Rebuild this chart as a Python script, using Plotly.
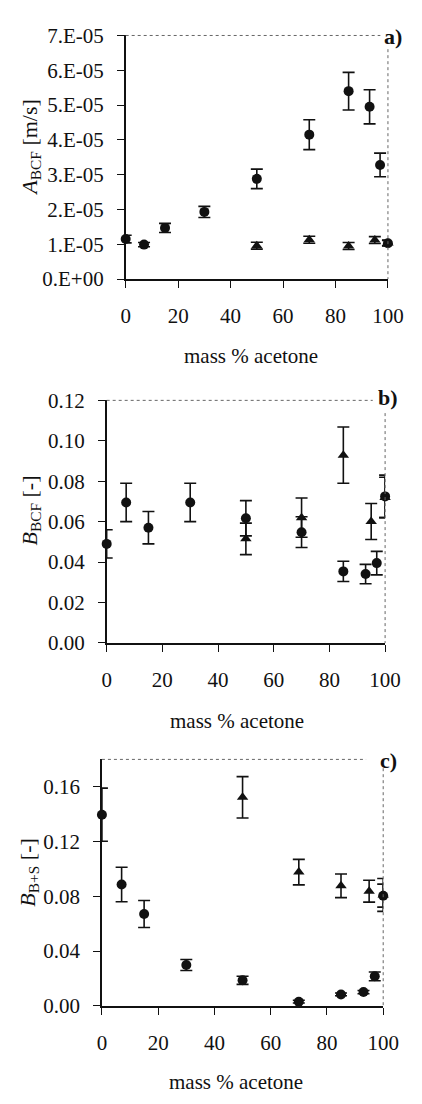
import plotly.graph_objects as go

# ---------------- data ----------------
mass_ticks = [0, 20, 40, 60, 80, 100]

# panel a) A_BCF [m/s]
xa_circ = [0, 7, 15, 30, 50, 70, 85, 93, 97, 100]
a_circ = [1.15e-5, 0.99e-5, 1.47e-5, 1.93e-5, 2.88e-5, 4.15e-5, 5.40e-5, 4.95e-5, 3.28e-5, 1.03e-5]
a_circ_err = [0.11e-5, 0.06e-5, 0.13e-5, 0.16e-5, 0.28e-5, 0.43e-5, 0.54e-5, 0.49e-5, 0.34e-5, 0.08e-5]
xa_tri = [50, 70, 85, 95, 100]
a_tri = [0.96e-5, 1.13e-5, 0.95e-5, 1.12e-5, 1.04e-5]
a_tri_err = [0.10e-5, 0.10e-5, 0.10e-5, 0.10e-5, 0.08e-5]
a_tickvals = [0, 1e-5, 2e-5, 3e-5, 4e-5, 5e-5, 6e-5, 7e-5]
a_ticktext = ["0.E+00", "1.E-05", "2.E-05", "3.E-05", "4.E-05", "5.E-05", "6.E-05", "7.E-05"]

# panel b) B_BCF [-]
xb_circ = [0, 7, 15, 30, 50, 70, 85, 93, 97, 100]
b_circ = [0.049, 0.0695, 0.057, 0.0695, 0.0617, 0.0548, 0.0354, 0.0341, 0.0395, 0.0725]
b_circ_err = [0.007, 0.0095, 0.008, 0.0095, 0.0087, 0.0076, 0.005, 0.0048, 0.0058, 0.0105]
xb_tri = [50, 70, 85, 95, 100]
b_tri = [0.0515, 0.062, 0.0929, 0.0601, 0.072]
b_tri_err = [0.0078, 0.0097, 0.0139, 0.0089, 0.0100]
b_tickvals = [0, 0.02, 0.04, 0.06, 0.08, 0.10, 0.12]

# panel c) B_B+S [-]
xc_circ = [0, 7, 15, 30, 50, 70, 85, 93, 97, 100]
c_circ = [0.1396, 0.0886, 0.0671, 0.0299, 0.0187, 0.0031, 0.0084, 0.0101, 0.0216, 0.0805]
c_circ_err = [0.0194, 0.0126, 0.0099, 0.004, 0.003, 0.001, 0.001, 0.0012, 0.0032, 0.0084]
xc_tri = [50, 70, 85, 95, 100]
c_tri = [0.1523, 0.0977, 0.0877, 0.0838, 0.081]
c_tri_err = [0.0151, 0.0093, 0.0086, 0.008, 0.012]
c_tickvals = [0, 0.04, 0.08, 0.12, 0.16]

# ---------------- layout geometry (pixels) ----------------
W, H = 422, 1104
FONT = "Liberation Serif, Times New Roman, Times, serif"
INK = "#111111"
# (left, right, top, bottom) of each plot area in pixels
boxes = [(127, 403, 24, 273), (107, 400, 397, 645), (102, 398, 764, 1016)]


def xdom(b):
    return [b[0] / W, b[1] / W]


def ydom(b):
    return [1 - b[3] / H, 1 - b[2] / H]


def py(v):
    return 1 - v / H


def px(v):
    return v / W


fig = go.Figure()


def add_series(i, x, y, err, symbol):
    suffix = "" if i == 1 else str(i)
    fig.add_trace(go.Scatter(
        x=x, y=y, mode="markers",
        marker=dict(symbol=symbol, size=10, color=INK, line=dict(width=0)),
        error_y=dict(type="data", array=err, visible=True, color=INK, thickness=1.6, width=6),
        xaxis="x" + suffix, yaxis="y" + suffix, cliponaxis=False, showlegend=False,
    ))


add_series(1, xa_circ, a_circ, a_circ_err, "circle")
add_series(1, xa_tri, a_tri, a_tri_err, "triangle-up")
add_series(2, xb_circ, b_circ, b_circ_err, "circle")
add_series(2, xb_tri, b_tri, b_tri_err, "triangle-up")
add_series(3, xc_circ, c_circ, c_circ_err, "circle")
add_series(3, xc_tri, c_tri, c_tri_err, "triangle-up")

common_axis = dict(showline=True, linecolor=INK, linewidth=1.5, ticks="outside", ticklen=7,
                   tickwidth=1.2, tickcolor=INK, showgrid=False, zeroline=False,
                   tickfont=dict(family=FONT, size=21, color=INK), fixedrange=True)

yranges = [[0, 7e-5], [0, 0.12], [0, 0.18]]
ytv = [a_tickvals, b_tickvals, c_tickvals]
layout = {}
for i, b in enumerate(boxes, start=1):
    suffix = "" if i == 1 else str(i)
    layout["xaxis" + suffix] = dict(common_axis, domain=xdom(b), range=[0, 100], tickvals=mass_ticks,
                                    anchor="y" + suffix, ticklabelstandoff=10)
    ya = dict(common_axis, domain=ydom(b), range=yranges[i - 1], tickvals=ytv[i - 1],
              anchor="x" + suffix, ticklabelstandoff=9)
    if i == 1:
        ya["ticktext"] = a_ticktext
    else:
        ya["tickformat"] = ".2f"
    layout["yaxis" + suffix] = ya

fig.update_layout(
    width=W, height=H, margin=dict(l=0, r=0, t=0, b=0),
    paper_bgcolor="white", plot_bgcolor="white",
    font=dict(family=FONT, size=21, color=INK), **layout,
)

# dotted top / right frame lines
frame_ends = [(395, 38), (387, 410), (380, 773)]
for (l, r, t, b), (xend, ystart) in zip(boxes, frame_ends):
    fig.add_shape(type="line", xref="paper", yref="paper", x0=px(l), x1=px(xend), y0=py(t), y1=py(t),
                  line=dict(color="#666666", width=1, dash="dot"))
    fig.add_shape(type="line", xref="paper", yref="paper", x0=px(r), x1=px(r), y0=py(ystart), y1=py(b),
                  line=dict(color="#666666", width=1, dash="dot"))

ann = []
# panel letters
for txt, (xc, yc) in zip(["a)", "b)", "c)"], [(408, 25), (403, 394), (404, 765)]):
    ann.append(dict(text="<b>" + txt + "</b>", x=px(xc), y=py(yc), xref="paper", yref="paper",
                    showarrow=False, font=dict(family=FONT, size=22, color=INK),
                    xanchor="center", yanchor="middle"))
# x titles
for xc, yc in [(259, 352), (244, 725), (243, 1094)]:
    ann.append(dict(text="mass % acetone", x=px(xc), y=py(yc), xref="paper", yref="paper",
                    showarrow=False, font=dict(family=FONT, size=21, color=INK),
                    xanchor="center", yanchor="middle"))
# y titles
ytitles = ["<i>A</i><sub>BCF</sub> [m/s]", "<i>B</i><sub>BCF</sub> [-]", "<i>B</i><sub>B+S</sub> [-]"]
for txt, (xc, yc) in zip(ytitles, [(27, 138), (27, 510), (25, 880)]):
    ann.append(dict(text=txt, x=px(xc), y=py(yc), xref="paper", yref="paper", textangle=-90,
                    showarrow=False, font=dict(family=FONT, size=22, color=INK),
                    xanchor="center", yanchor="middle"))
fig.update_layout(annotations=ann)

fig.write_html("out.html")
